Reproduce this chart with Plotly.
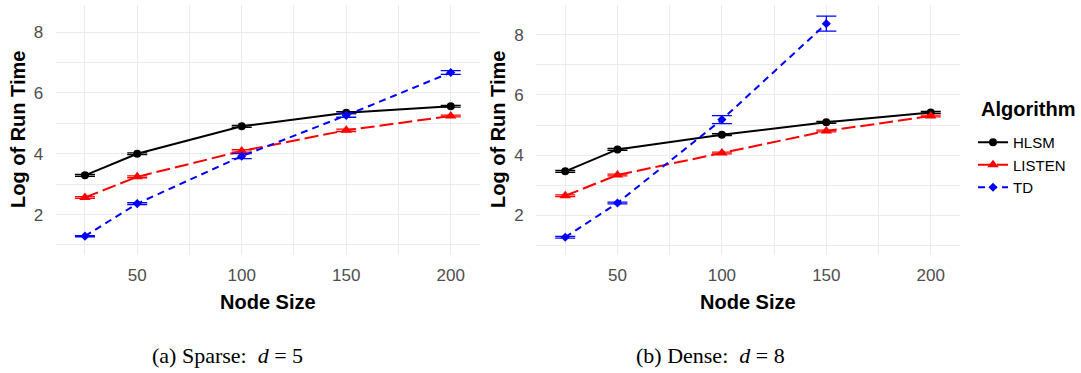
import plotly.graph_objects as go

node_sizes = [25, 50, 100, 150, 200]
algorithms = ["HLSM", "LISTEN", "TD"]

# Sparse (d = 5)
sparse_hlsm = [3.29, 4.00, 4.90, 5.35, 5.56]
sparse_listen = [2.56, 3.24, 4.09, 4.77, 5.24]
sparse_td = [1.29, 2.36, 3.92, 5.26, 6.67]
sparse_hlsm_err = [0.03, 0.03, 0.03, 0.03, 0.03]
sparse_listen_err = [0.03, 0.03, 0.04, 0.04, 0.03]
sparse_td_err = [0.02, 0.03, 0.08, 0.06, 0.06]

# Dense (d = 8)
dense_hlsm = [3.46, 4.19, 4.68, 5.09, 5.42]
dense_listen = [2.65, 3.34, 4.07, 4.80, 5.30]
dense_td = [1.27, 2.41, 5.18, 8.37]
dense_td_x = [25, 50, 100, 150]
dense_hlsm_err = [0.03, 0.03, 0.03, 0.03, 0.03]
dense_listen_err = [0.03, 0.03, 0.03, 0.03, 0.03]
dense_td_err = [0.03, 0.03, 0.13, 0.25]

colors = {"HLSM": "#000000", "LISTEN": "#FF0000", "TD": "#0000FF"}
symbols = {"HLSM": "circle", "LISTEN": "triangle-up", "TD": "diamond"}
msizes = {"HLSM": 8, "LISTEN": 10, "TD": 7}
dashes = {"HLSM": "solid", "LISTEN": "14px,5px", "TD": "7px,5px"}

FONT = "Liberation Sans, Arial, sans-serif"

fig = go.Figure()

panels = [
    ("x", "y", [node_sizes, node_sizes, node_sizes],
     [sparse_hlsm, sparse_listen, sparse_td],
     [sparse_hlsm_err, sparse_listen_err, sparse_td_err], True),
    ("x2", "y2", [node_sizes, node_sizes, dense_td_x],
     [dense_hlsm, dense_listen, dense_td],
     [dense_hlsm_err, dense_listen_err, dense_td_err], False),
]

for xa, ya, xs, ys, es, show in panels:
    for alg, x, y, e in zip(algorithms, xs, ys, es):
        fig.add_trace(go.Scatter(
            x=x, y=y, xaxis=xa, yaxis=ya, name=alg, legendgroup=alg,
            showlegend=show, mode="lines+markers",
            line=dict(color=colors[alg], width=2, dash=dashes[alg]),
            marker=dict(symbol=symbols[alg], size=msizes[alg], color=colors[alg]),
            error_y=dict(type="data", array=e, visible=True, color=colors[alg],
                         thickness=1.3, width=10),
        ))

grid = "#EBEBEB"
tickfont = dict(family=FONT, size=17, color="#4D4D4D")

def xaxis_style(domain, anchor):
    return dict(domain=domain, anchor=anchor, range=[11, 214],
                tickvals=[50, 100, 150, 200], showgrid=True, gridcolor=grid,
                gridwidth=1.1, zeroline=False, showline=False,
                ticks="outside", ticklen=5, tickcolor="rgba(0,0,0,0)",
                tickfont=tickfont,
                minor=dict(tickvals=[25, 75, 125, 175], showgrid=True,
                           gridcolor=grid, gridwidth=0.6))

def yaxis_style(domain, anchor, rng):
    return dict(domain=domain, anchor=anchor, range=rng,
                tickvals=[2, 4, 6, 8], showgrid=True, gridcolor=grid,
                gridwidth=1.1, zeroline=False, showline=False,
                ticks="outside", ticklen=8, tickcolor="rgba(0,0,0,0)",
                tickfont=tickfont,
                minor=dict(tickvals=[1, 3, 5, 7], showgrid=True,
                           gridcolor=grid, gridwidth=0.6))

W, H = 1081, 373
ydom = [1 - 255 / H, 1 - 5 / H]
fig.update_layout(
    width=W, height=H, margin=dict(l=0, r=0, t=0, b=0),
    paper_bgcolor="white", plot_bgcolor="white",
    font=dict(family=FONT),
    xaxis=xaxis_style([55.7 / W, 480 / W], "y"),
    yaxis=yaxis_style(ydom, "x", [0.67, 8.89]),
    xaxis2=xaxis_style([536 / W, 960 / W], "y2"),
    yaxis2=yaxis_style(ydom, "x2", [0.68, 8.99]),
    legend=dict(
        x=973 / W, y=1 - 126 / H, xanchor="left", yanchor="top",
        font=dict(family=FONT, size=15, color="black"),
        bgcolor="rgba(0,0,0,0)", tracegroupgap=0, itemwidth=30,
    ),
    showlegend=True,
)

annotations = []
annotations.append(dict(
    text="<b>Algorithm</b>", x=979 / W, y=1 - 109 / H, xref="paper", yref="paper",
    showarrow=False, xanchor="left", yanchor="middle",
    font=dict(family=FONT, size=20, color="black")))
for cx in [18, 498]:
    annotations.append(dict(
        text="<b>Log of Run Time</b>", x=cx / W, y=1 - 130 / H,
        xref="paper", yref="paper", textangle=-90, showarrow=False,
        font=dict(family=FONT, size=20, color="black"),
        xanchor="center", yanchor="middle"))
for cx in [268, 748]:
    annotations.append(dict(
        text="<b>Node Size</b>", x=cx / W, y=1 - 302 / H,
        xref="paper", yref="paper", showarrow=False,
        font=dict(family=FONT, size=20, color="black"),
        xanchor="center", yanchor="middle"))
captions = [("(a) Sparse:  <i>d</i> = 5", 227), ("(b) Dense:  <i>d</i> = 8", 710)]
for txt, cx in captions:
    annotations.append(dict(
        text=txt, x=cx / W, y=1 - 355 / H, xref="paper", yref="paper",
        showarrow=False, font=dict(family="Liberation Serif, DejaVu Serif, serif", size=22, color="black"),
        xanchor="center", yanchor="middle"))
fig.update_layout(annotations=annotations)

fig.write_html("out.html")
